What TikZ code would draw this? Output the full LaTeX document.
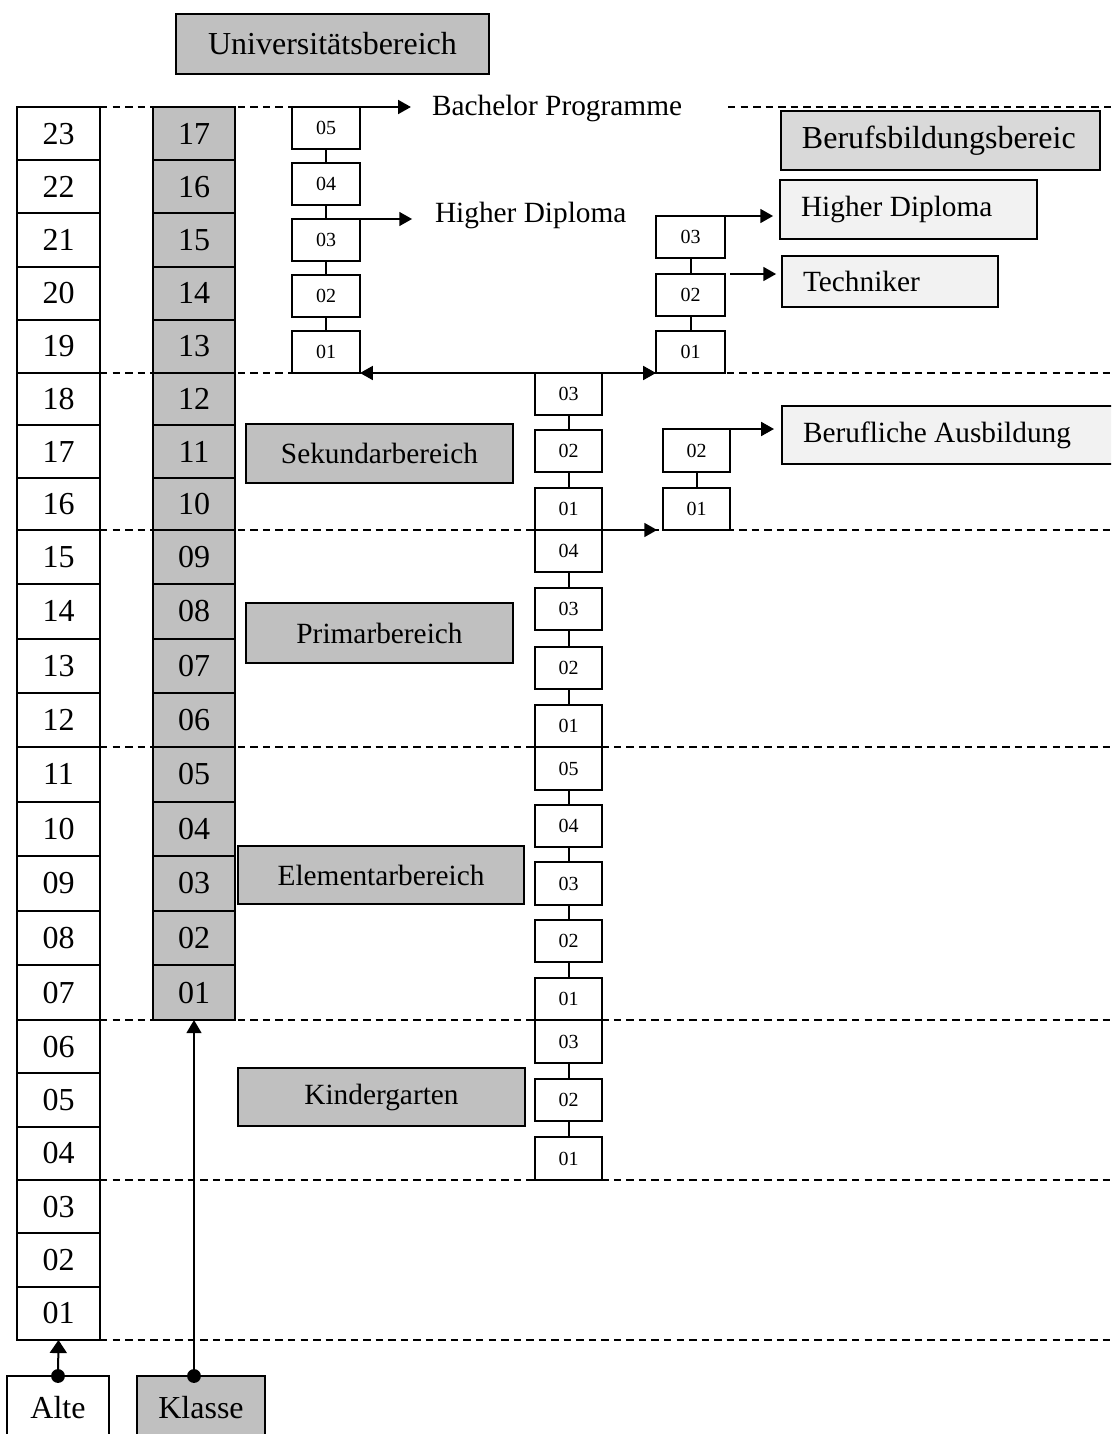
\documentclass[tikz,border=0pt]{standalone}
\usepackage{fontspec}
\setmainfont{Liberation Serif}
\usetikzlibrary{arrows.meta}
\definecolor{gfill}{HTML}{C0C0C0}
\definecolor{bfill}{HTML}{D9D9D9}
\definecolor{lfill}{HTML}{F2F2F2}
\newcommand\szA{\fontsize{12}{14}\selectfont}
\newcommand\szB{\fontsize{11}{13}\selectfont}
\newcommand\szC{\fontsize{7.5}{9}\selectfont}
\newcommand\pbox[7]{\node[#6, minimum width={(#4-#2)*0.375pt}, minimum height={(#5-#3)*0.375pt}] (#1) at ({(#2+#4)/2},{(#3+#5)/2}) {#7};}
\pgfdeclarelayer{bg}
\pgfsetlayers{bg,main}
\begin{document}
\begin{tikzpicture}[x=0.375pt,y=-0.375pt,
  every node/.style={inner sep=0pt, outer sep=0pt},
  agecell/.style={draw, line width=0.75pt, fill=white, font=\szA},
  klcell/.style={draw, line width=0.75pt, fill=gfill, font=\szA},
  sbox/.style={draw, line width=0.75pt, fill=white, font=\szC},
  gbox/.style={draw, line width=0.75pt, fill=gfill, font=\szB},
  lbox/.style={draw, line width=0.75pt, fill=lfill, font=\szB, inner xsep=7.875pt, align=flush left},
  dline/.style={line width=0.6pt, dash pattern=on 2.8pt off 1.9pt},
  arr/.style={line width=0.75pt, -{Triangle[length=4.8pt,width=5.2pt]}},
  link/.style={line width=0.75pt}
]
\useasboundingbox (0,0) rectangle (1111,1434);
\clip (0,0) rectangle (1111,1434);

% Age column and class column
\foreach \n/\t/\b in {23/107/160.2, 22/160.2/213.4, 21/213.4/266.6, 20/266.6/319.8, 19/319.8/373,
  18/373/425.3, 17/425.3/477.7, 16/477.7/530,
  15/530/584.25, 14/584.25/638.5, 13/638.5/692.75, 12/692.75/747,
  11/747/801.6, 10/801.6/856.2, 9/856.2/910.8, 8/910.8/965.4, 7/965.4/1020,
  6/1020/1073.3, 5/1073.3/1126.7, 4/1126.7/1180,
  3/1180/1233.3, 2/1233.3/1286.7, 1/1286.7/1340}{
  \pbox{a\n}{17}{\t}{100}{\b}{agecell}{\ifnum\n<10 0\fi\n}
  \ifnum\n>6
    \pgfmathtruncatemacro\g{\n-6}
    \pbox{k\g}{153}{\t}{235}{\b}{klcell}{\ifnum\g<10 0\fi\g}
  \fi
}

% University chain
\pbox{u5}{292}{107}{360}{149}{sbox}{05}
\pbox{u4}{292}{163}{360}{205}{sbox}{04}
\pbox{u3}{292}{219}{360}{261}{sbox}{03}
\pbox{u2}{292}{275}{360}{317}{sbox}{02}
\pbox{u1}{292}{331}{360}{373}{sbox}{01}

% Vocational upper chain
\pbox{r3}{656}{216}{725}{258}{sbox}{03}
\pbox{r2}{656}{274}{725}{316}{sbox}{02}
\pbox{r1}{656}{331}{725}{373}{sbox}{01}

% Middle chain
\pbox{s3}{535}{373}{602}{415}{sbox}{03}
\pbox{s2}{535}{430}{602}{472}{sbox}{02}
\pbox{s1}{535}{488}{602}{530}{sbox}{01}
\pbox{p4}{535}{530}{602}{572}{sbox}{04}
\pbox{p3}{535}{588}{602}{630}{sbox}{03}
\pbox{p2}{535}{647}{602}{689}{sbox}{02}
\pbox{p1}{535}{705}{602}{747}{sbox}{01}
\pbox{e5}{535}{747}{602}{790}{sbox}{05}
\pbox{e4}{535}{805}{602}{847}{sbox}{04}
\pbox{e3}{535}{862}{602}{905}{sbox}{03}
\pbox{e2}{535}{920}{602}{962}{sbox}{02}
\pbox{e1}{535}{978}{602}{1020}{sbox}{01}
\pbox{g3}{535}{1020}{602}{1063}{sbox}{03}
\pbox{g2}{535}{1079}{602}{1121}{sbox}{02}
\pbox{g1}{535}{1137}{602}{1180}{sbox}{01}

% Vocational training chain
\pbox{b2}{663}{429}{730}{472}{sbox}{02}
\pbox{b1}{663}{488}{730}{530}{sbox}{01}

% Area labels
\pbox{uni}{176}{14}{489}{74}{gbox, font=\szA}{Universitätsbereich}
\pbox{sek}{246}{424}{513}{483}{gbox}{Sekundarbereich}
\pbox{prim}{246}{603}{513}{663}{gbox}{Primarbereich}
\pbox{elem}{238}{846}{524}{904}{gbox}{Elementarbereich}
\pbox{kind}{238}{1068}{525}{1126}{gbox}{Kindergarten}
\pbox{alte}{7}{1376}{109}{1440}{agecell}{Alte}
\pbox{klasse}{137}{1376}{265}{1440}{klcell}{Klasse}

% Right boxes
\node[lbox, fill=bfill, font=\szA, text width=103.9pt, minimum height=22.1pt] (bbb) at (940.5,140.5) {Berufsbildungsbereic};
\node[lbox, text width=80.6pt, minimum height=22.1pt] (hd2) at (908.5,209.5) {Higher Diploma};
\node[lbox, text width=65.25pt, minimum height=19.1pt] (tech) at (890,281.5) {Techniker};
\node[lbox, text width=114.75pt, minimum height=21.75pt] (bau) at (956,435) {Berufliche Ausbildung};

% Free text labels
\node[font=\szB, anchor=base west] (bp) at (432,116) {Bachelor Programme};
\node[font=\szB, anchor=base west] (hd1) at (435,222) {Higher Diploma};

% Chain links
\foreach \p/\q in {u5/u4, u4/u3, u3/u2, u2/u1, r3/r2, r2/r1, s3/s2, s2/s1,
  p4/p3, p3/p2, p2/p1, e5/e4, e4/e3, e3/e2, e2/e1, g3/g2, g2/g1, b2/b1}{
  \draw[link] (\p.south) -- (\q.north);
}

% Arrows
\draw[arr, shorten >=7.9pt] (u5.north east) -- (u5.north east -| bp.west);
\draw[arr, shorten >=8.6pt] (u3.north east) -- (u3.north east -| hd1.west);
\draw[line width=0.75pt, {Triangle[length=4.8pt,width=5.2pt]}-{Triangle[length=4.8pt,width=5.2pt]}] (u1.south east) -- (r1.south west);
\draw[arr, shorten >=2.6pt] (r3.north east) -- (r3.north east -| hd2.west);
\draw[arr, shorten <=1.9pt, shorten >=2.2pt] (r2.north east) -- (r2.north east -| tech.west);
\draw[arr, shorten >=3pt] (b2.north east) -- (b2.north east -| bau.west);
\draw[arr, shorten >=2.2pt] (s1.south east) -- (b1.south west);

% Legend arrows
\draw[line width=0.75pt, -{Triangle[length=4.9pt,width=6.4pt]}] (alte.north) -- (a1.south);
\fill (alte.north) circle[radius=2.6pt];
\draw[line width=0.6pt, -{Triangle[length=4.9pt,width=5.6pt]}] (k1.south |- klasse.north) -- (k1.south);
\fill (k1.south |- klasse.north) circle[radius=2.6pt];

% Dashed level lines
\coordinate (edge) at (1111,0);
\coordinate (dstart) at (728,107);
\begin{pgfonlayer}{bg}
\draw[dline] (a23.north east) -- (u5.north west);
\draw[dline] (dstart) -- (dstart -| edge);
\draw[dline] (a19.south east) -- (a19.south east -| edge);
\draw[dline] (a16.south east) -- (a16.south east -| edge);
\draw[dline] (a12.south east) -- (a12.south east -| edge);
\draw[dline] (a7.south east) -- (a7.south east -| edge);
\draw[dline] (a4.south east) -- (a4.south east -| edge);
\draw[dline] (a1.south east) -- (a1.south east -| edge);
\end{pgfonlayer}
\end{tikzpicture}
\end{document}
